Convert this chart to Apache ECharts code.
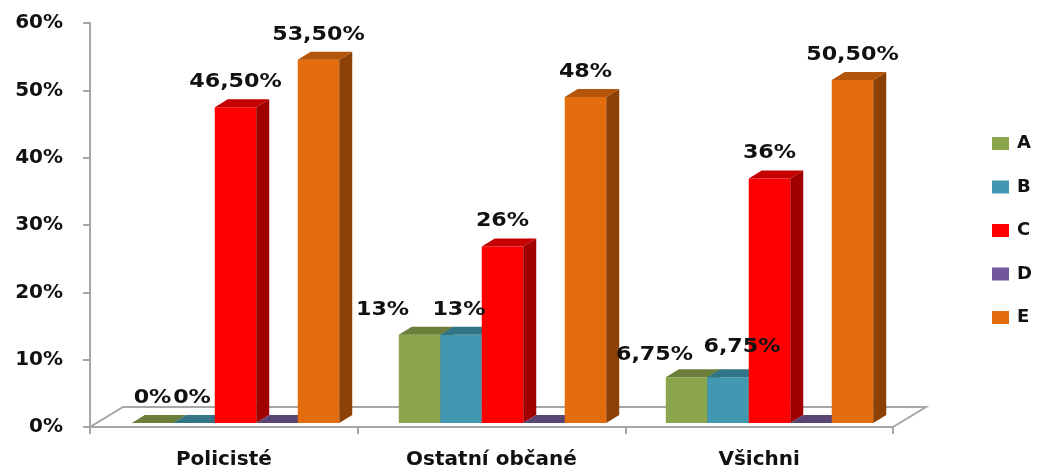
<!DOCTYPE html>
<html>
<head>
<meta charset="utf-8">
<script src="https://cdn.jsdelivr.net/npm/echarts@6/dist/echarts.min.js"></script>
<style>
html,body{margin:0;padding:0;background:#fff;}
#chart{width:1039px;height:471px;}
</style>
</head>
<body>
<div id="chart"></div>
<script>
// ---- data ----
const categories = ['Policisté', 'Ostatní občané', 'Všichni'];
const seriesNames = ['A', 'B', 'C', 'D', 'E'];
const valuesA = [0, 13, 6.75];
const valuesB = [0, 13, 6.75];
const valuesC = [46.5, 26, 36];
const valuesD = [0, 0, 0];
const valuesE = [53.5, 48, 50.5];
const yTicks = [0, 10, 20, 30, 40, 50, 60];

// ---- styles ----
const FONT = '"DejaVu Sans", Verdana, sans-serif';
const palette = {
  A: {front: '#8aa54c', top: '#6b7f3a', side: '#5a6b30'},
  B: {front: '#4298b0', top: '#317586', side: '#2a6272'},
  C: {front: '#ff0000', top: '#c40000', side: '#a00000'},
  D: {front: '#71589a', top: '#5a4474', side: '#48365e'},
  E: {front: '#e36c0c', top: '#b2540a', side: '#8c4107'}
};
const showLabels = {A: true, B: true, C: true, D: false, E: true};
// label nudges [dx, dy] per series per category (layout only)
const labelNudge = {
  A: [[0, 0], [-37, 0], [-32, 3]],
  B: [[-2, 0], [-2, 0], [14, -5]],
  C: [[0, 0], [0, 0], [0, 0]],
  D: [[0, 0], [0, 0], [0, 0]],
  E: [[0, 0], [0, 0], [0, 0]]
};
const BAR_GROUP_RATIO = 0.777;
const DEPTH_DX = 13, DEPTH_DY = -8;
const FLOOR_DX = 33, FLOOR_DY = -20;

function fmt(v) {
  if (Math.round(v) === v) return v + '%';
  return v.toFixed(2).replace('.', ',') + '%';
}

function barGeom(api, k) {
  const cat = api.value(0), val = api.value(1);
  const band = api.size([1, 0])[0];
  const bw = band * BAR_GROUP_RATIO / 5;
  const c0 = api.coord([cat, 0]);
  const c1 = api.coord([cat, val]);
  const x0 = c0[0] - bw * 2.5 + k * bw;
  return {x0: x0, x1: x0 + bw, bw: bw, yb: c0[1], yt: c1[1], val: val};
}

function makeBarRender(name, k) {
  const col = palette[name];
  return function (params, api) {
    const g = barGeom(api, k);
    const x0 = g.x0, x1 = g.x1, yb = g.yb, yt = g.yt;
    return {type: 'group', children: [
      {type: 'rect', shape: {x: x0, y: yt, width: g.bw, height: yb - yt}, style: {fill: col.front}},
      {type: 'polygon', shape: {points: [[x1, yt], [x1 + DEPTH_DX, yt + DEPTH_DY], [x1 + DEPTH_DX, yb + DEPTH_DY], [x1, yb]]}, style: {fill: col.side}},
      {type: 'polygon', shape: {points: [[x0, yt], [x1, yt], [x1 + DEPTH_DX, yt + DEPTH_DY], [x0 + DEPTH_DX, yt + DEPTH_DY]]}, style: {fill: col.top}}
    ]};
  };
}

function makeLabelRender(name, k) {
  return function (params, api) {
    const g = barGeom(api, k);
    const n = labelNudge[name][params.dataIndex];
    return {
      type: 'text',
      x: (g.x0 + g.x1) / 2 + n[0],
      y: g.yt - 25 + n[1],
      scaleX: 1.17,
      style: {text: fmt(g.val), fill: '#111', font: 'bold 19px ' + FONT,
              textAlign: 'center', textVerticalAlign: 'middle', align: 'center', verticalAlign: 'middle'}
    };
  };
}

const seriesValues = {A: valuesA, B: valuesB, C: valuesC, D: valuesD, E: valuesE};

const series = [{
  type: 'custom',
  xAxisIndex: 0, yAxisIndex: 0,
  silent: true,
  z: 1,
  data: [[0, 0]],
  renderItem: function (params, api) {
    const band = api.size([1, 0])[0];
    const l = api.coord([0, 0]);
    const r = api.coord([categories.length - 1, 0]);
    const xl = l[0] - band / 2, xr = r[0] + band / 2, y = l[1];
    return {
      type: 'polyline',
      shape: {points: [[xl, y], [xl + FLOOR_DX, y + FLOOR_DY], [xr + FLOOR_DX, y + FLOOR_DY], [xr, y]]},
      style: {stroke: '#a6a6a6', lineWidth: 2, fill: null}
    };
  }
}];
seriesNames.forEach(function (name, k) {
  series.push({
    name: name,
    type: 'custom',
    xAxisIndex: 1, yAxisIndex: 1,
    z: 2 + k,
    itemStyle: {color: palette[name].front},
    data: seriesValues[name].map(function (v, i) { return [i, v]; }),
    encode: {x: 0, y: 1},
    renderItem: makeBarRender(name, k)
  });
});
seriesNames.forEach(function (name, k) {
  if (!showLabels[name]) return;
  series.push({
    type: 'custom',
    xAxisIndex: 1, yAxisIndex: 1,
    z: 20,
    silent: true,
    data: seriesValues[name].map(function (v, i) { return [i, v]; }),
    encode: {x: 0, y: 1},
    renderItem: makeLabelRender(name, k)
  });
});

const chart = echarts.init(document.getElementById('chart'), null, {renderer: 'canvas'});
chart.setOption({
  animation: false,
  backgroundColor: '#fff',
  legend: {
    orient: 'vertical',
    left: 992, top: 134.5,
    padding: 0,
    itemWidth: 17, itemHeight: 13, itemGap: 25.5,
    icon: 'rect',
    data: seriesNames,
    textStyle: {fontFamily: FONT, fontWeight: 'bold', fontSize: 18, color: '#111', padding: [0, 0, 0, 3]}
  },
  grid: [
    {left: 90, right: 146, top: 23, bottom: 44, containLabel: false},
    {left: 102, right: 136, top: 15.6, bottom: 48, containLabel: false}
  ],
  xAxis: [
    {
      type: 'category', gridIndex: 0, data: categories,
      axisLine: {show: true, lineStyle: {color: '#a6a6a6', width: 2}},
      axisTick: {show: true, length: 7, interval: 0, lineStyle: {color: '#a6a6a6', width: 2}},
      axisLabel: {margin: 23, fontFamily: FONT, fontWeight: 'bold', fontSize: 20, color: '#111'},
      splitLine: {show: false}
    },
    {type: 'category', gridIndex: 1, data: categories, show: false}
  ],
  yAxis: [
    {
      type: 'value', gridIndex: 0, min: yTicks[0], max: yTicks[yTicks.length - 1], interval: 10,
      axisLine: {show: true, lineStyle: {color: '#a6a6a6', width: 2}},
      axisTick: {show: true, length: 7, lineStyle: {color: '#a6a6a6', width: 2}},
      axisLabel: {margin: 27, fontFamily: FONT, fontWeight: 'bold', fontSize: 20, color: '#111',
                  padding: [5, 0, 0, 0],
                  formatter: function (v) { return v + '%'; }},
      splitLine: {show: false}
    },
    {type: 'value', gridIndex: 1, min: 0, max: 60, show: false}
  ],
  series: series
});
</script>
</body>
</html>
